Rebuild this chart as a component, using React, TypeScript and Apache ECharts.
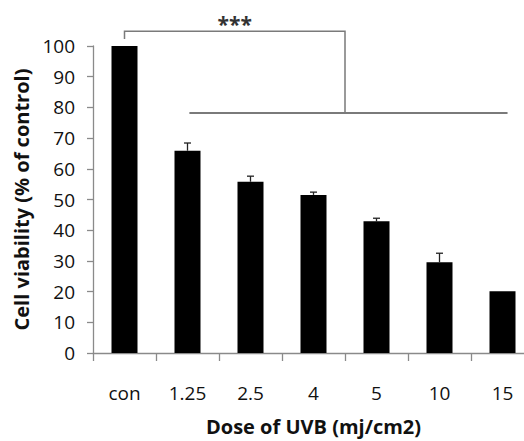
import React, { useEffect, useRef } from "react";
import * as echarts from "echarts";

const categories = ["con", "1.25", "2.5", "4", "5", "10", "15"];
const viability = [100, 65.9, 55.8, 51.5, 42.9, 29.6, 20.1];
const errors = [0, 2.5, 1.8, 0.9, 1.0, 2.9, 0];
const yTicks = { min: 0, max: 100, interval: 10 };
const significanceLabel = "***";
// bracket geometry in data units: [category position, value]
const bracketTop = { from: 0, to: 3.5, value: 104.8, leftDrop: 102.3, rightDrop: 78.2 };
const bracketLower = { from: 1.03, to: 6.08, value: 78.2 };

const FONT = "'Open Sans', 'DejaVu Sans', sans-serif";

export default function App() {
  const ref = useRef<HTMLDivElement>(null);
  useEffect(() => {
    document.body.style.margin = "0";
    if (!ref.current) return;
    const chart = echarts.init(ref.current, null, { renderer: "svg" });
    chart.setOption({
      animation: false,
      backgroundColor: "#ffffff",
      textStyle: { fontFamily: FONT },
      grid: { left: 93, top: 46, bottom: 83, right: 0, containLabel: false },
      xAxis: {
        type: "category",
        data: categories,
        axisLine: { show: true, lineStyle: { color: "#8a8a8a", width: 1.3 } },
        axisTick: { show: true, length: 8, lineStyle: { color: "#8a8a8a", width: 1.3 } },
        axisLabel: { color: "#111111", fontSize: 19, margin: 30, fontFamily: FONT },
        name: "Dose of UVB (mj/cm2)",
        nameLocation: "middle",
        nameGap: 63,
        nameTextStyle: { color: "#111111", fontSize: 20, fontWeight: "bold", fontFamily: FONT },
      },
      yAxis: {
        type: "value",
        min: yTicks.min,
        max: yTicks.max,
        interval: yTicks.interval,
        splitLine: { show: false },
        axisLine: { show: true, lineStyle: { color: "#8a8a8a", width: 1.3 } },
        axisTick: { show: true, length: 6, lineStyle: { color: "#8a8a8a", width: 1.3 } },
        axisLabel: { color: "#111111", fontSize: 19, margin: 18, fontFamily: FONT },
        name: "Cell viability (% of control)",
        nameLocation: "middle",
        nameGap: 62,
        nameTextStyle: { color: "#111111", fontSize: 20, fontWeight: "bold", fontFamily: FONT },
      },
      series: [
        {
          type: "bar",
          data: viability,
          barWidth: 26,
          itemStyle: { color: "#000000" },
        },
        {
          type: "custom",
          clip: false,
          data: categories.map((_, i) => [i, viability[i], errors[i]]),
          renderItem: (params: any, api: any) => {
            const idx = api.value(0);
            const mean = api.value(1);
            const err = api.value(2);
            if (!err) return null;
            const base = api.coord([idx, mean]);
            const top = api.coord([idx, mean + err]);
            const half = 3.5;
            const style = { stroke: "#222222", lineWidth: 1.3 };
            return {
              type: "group",
              children: [
                { type: "line", shape: { x1: base[0], y1: base[1], x2: top[0], y2: top[1] }, style },
                { type: "line", shape: { x1: top[0] - half, y1: top[1], x2: top[0] + half, y2: top[1] }, style },
              ],
            };
          },
        },
      ],
    });

    const px = (c: number, v: number) => {
      const p0 = chart.convertToPixel({ gridIndex: 0 }, [0, v]) as number[];
      const p1 = chart.convertToPixel({ gridIndex: 0 }, [1, v]) as number[];
      return [p0[0] + c * (p1[0] - p0[0]), p0[1]];
    };
    const tl = px(bracketTop.from, bracketTop.value);
    const tr = px(bracketTop.to, bracketTop.value);
    const ld = px(bracketTop.from, bracketTop.leftDrop);
    const rd = px(bracketTop.to, bracketTop.rightDrop);
    const l1 = px(bracketLower.from, bracketLower.value);
    const l2 = px(bracketLower.to, bracketLower.value);
    const lineStyle = { stroke: "#7a7a7a", lineWidth: 1.5 };
    chart.setOption({
      graphic: [
        { type: "polyline", shape: { points: [ld, tl, tr, rd] }, style: { ...lineStyle, fill: null } },
        { type: "line", shape: { x1: l1[0], y1: l1[1], x2: l2[0], y2: l2[1] }, style: { ...lineStyle, lineWidth: 2 } },
        {
          type: "text",
          x: (tl[0] + tr[0]) / 2,
          y: tl[1] + 3,
          style: {
            text: significanceLabel,
            fill: "#333333",
            fontSize: 21,
            fontWeight: "bold",
            fontFamily: FONT,
            textAlign: "center",
            textVerticalAlign: "bottom",
          },
        },
      ],
    });
    return () => chart.dispose();
  }, []);
  return (
    <div style={{ width: 524, height: 441, overflow: "hidden", position: "relative" }}>
      <div ref={ref} style={{ width: 534, height: 441 }} />
    </div>
  );
}
